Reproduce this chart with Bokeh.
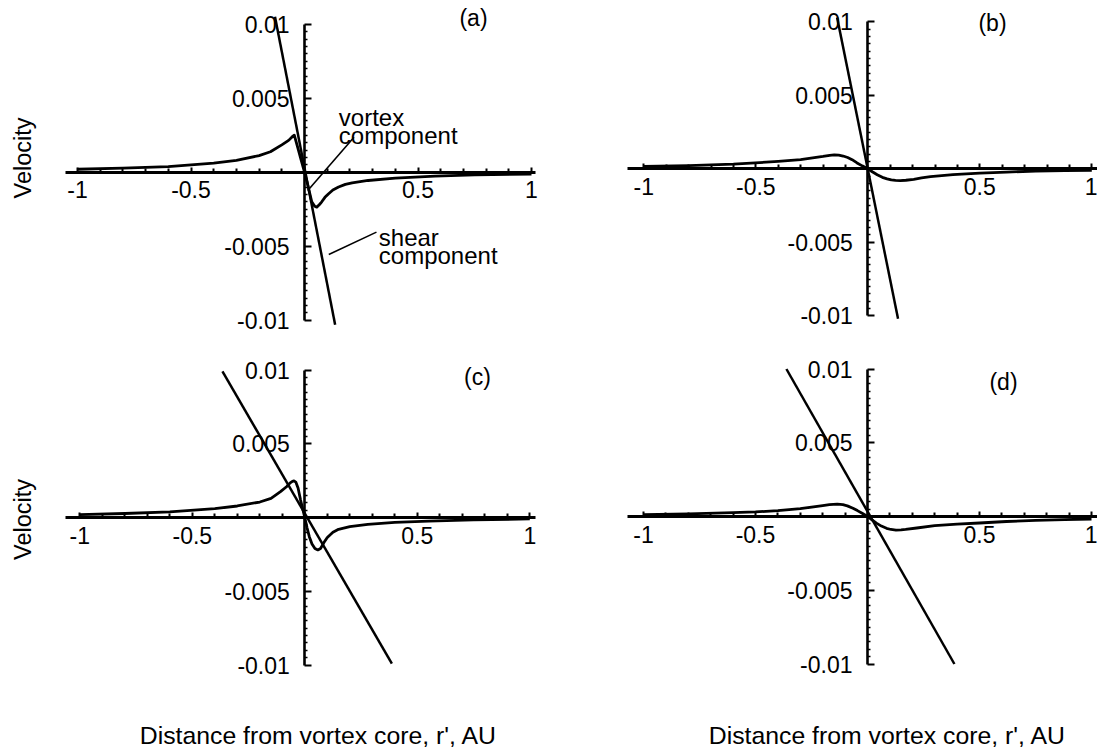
import math
from bokeh.plotting import figure
from bokeh.models import FixedTicker, Label
from bokeh.layouts import column, row
from bokeh.embed import file_html
from bokeh.resources import INLINE

FONT = "Liberation Sans"

# ---------------- data ----------------
x_major_ticks = [-1, -0.5, 0.5, 1]
x_tick_labels = ["-1", "-0.5", "0.5", "1"]
x_minor_ticks = [-0.9, -0.8, -0.7, -0.6, -0.4, -0.3, -0.2, -0.1,
                 0.1, 0.2, 0.3, 0.4, 0.6, 0.7, 0.8, 0.9]
y_major_ticks = [-0.01, -0.005, 0.005, 0.01]
y_tick_labels = ["-0.01", "-0.005", "0.005", "0.01"]
y_minor_ticks = [round(k * 0.0005, 4) for k in range(-20, 21) if k % 10 != 0]

panel_letters = ["(a)", "(b)", "(c)", "(d)"]
y_title = "Velocity"
x_title = "Distance from vortex core, r', AU"

# shear component (straight line through the core)
shear_a_x = [-0.13, 0.135]
shear_a_y = [0.0105, -0.0103]
shear_b_x = [-0.137, 0.135]
shear_b_y = [0.0103, -0.0102]
shear_c_x = [-0.366, 0.387]
shear_c_y = [0.0099, -0.0099]
shear_d_x = [-0.362, 0.388]
shear_d_y = [0.0100, -0.0100]

# vortex component
vortex_a_x = [-1.0, -0.8, -0.6, -0.4, -0.3, -0.2, -0.15, -0.1, -0.07, -0.055, -0.045,
              -0.03, -0.015, 0.0, 0.015, 0.032, 0.045, 0.054, 0.065, 0.076, 0.09,
              0.105, 0.125, 0.15, 0.18, 0.21, 0.28, 0.4, 0.575, 0.75, 1.0]
vortex_a_y = [0.0002, 0.00027, 0.00038, 0.00062, 0.0008, 0.00112, 0.00138, 0.00185,
              0.00215, 0.00238, 0.0025, 0.00167, 0.00083, 0.0, -0.0009, -0.002, -0.0023,
              -0.00236, -0.0022, -0.002, -0.0017, -0.00147, -0.0012, -0.001, -0.00082,
              -0.00072, -0.00056, -0.0004, -0.00027, -0.00018, -0.00012]

vortex_b_x = [-1.0, -0.8, -0.6, -0.4, -0.3, -0.2, -0.17, -0.15, -0.13, -0.11, -0.09,
              -0.07, -0.048, -0.025, 0.0, 0.02, 0.042, 0.065, 0.086, 0.105, 0.124,
              0.145, 0.17, 0.205, 0.24, 0.28, 0.38, 0.5, 0.62, 0.75, 0.88, 1.0]
vortex_b_y = [0.00016, 0.00022, 0.00032, 0.0005, 0.00062, 0.00084, 0.00092, 0.00095,
              0.00093, 0.00087, 0.00077, 0.00062, 0.0004, 0.0002, 0.0, -0.0002, -0.0004,
              -0.00058, -0.00069, -0.00076, -0.00079, -0.0008, -0.00078, -0.00072,
              -0.00062, -0.00053, -0.0004, -0.0003, -0.00022, -0.00016, -0.00013, -0.0001]

vortex_c_x = [-1.0, -0.8, -0.6, -0.4, -0.3, -0.2, -0.15, -0.108, -0.08, -0.065, -0.055,
              -0.048, -0.04, -0.03, -0.019, -0.008, 0.0, 0.01, 0.02, 0.032, 0.045, 0.058,
              0.07, 0.085, 0.1, 0.125, 0.15, 0.2, 0.28, 0.4, 0.55, 0.75, 1.0]
vortex_c_y = [0.0002, 0.00027, 0.00038, 0.0006, 0.00078, 0.00105, 0.0013, 0.00175,
              0.0021, 0.00235, 0.00245, 0.00248, 0.0024, 0.002, 0.0012, 0.0005, 0.0,
              -0.0007, -0.0013, -0.0018, -0.0021, -0.0022, -0.0021, -0.0017, -0.00135,
              -0.001, -0.0008, -0.00062, -0.00046, -0.00033, -0.00024, -0.00016, -0.0001]

vortex_d_x = [-1.0, -0.8, -0.6, -0.5, -0.4, -0.3, -0.2, -0.17, -0.135, -0.11, -0.09,
              -0.065, -0.045, -0.022, 0.0, 0.02, 0.04, 0.062, 0.085, 0.105, 0.127, 0.15,
              0.17, 0.22, 0.3, 0.4, 0.5, 0.62, 0.75, 0.88, 1.0]
vortex_d_y = [0.00012, 0.00018, 0.00026, 0.00031, 0.0004, 0.00053, 0.00074, 0.0008,
              0.00084, 0.0008, 0.00072, 0.00056, 0.0004, 0.0002, 0.0, -0.00023, -0.00045,
              -0.00065, -0.0008, -0.00088, -0.00092, -0.00091, -0.00088, -0.00078,
              -0.00062, -0.00052, -0.00044, -0.00034, -0.00026, -0.00021, -0.00017]

# annotations of panel (a)
note_vortex_lines = ["vortex", "component"]
note_shear_lines = ["shear", "component"]
leader_vortex_x = [0.218, 0.0145]
leader_vortex_y = [0.00236, -0.00124]
leader_shear_x = [0.317, 0.107]
leader_shear_y = [-0.00405, -0.00556]

# ---------------- layout geometry (pixels, canvas coordinates) ----------------
# w,h: canvas; ox,oy: origin; sx,sy: px per unit; axl,axr: x-axis line ends
GEOM = {
    "a": dict(w=548, h=345, ox=304.0, oy=171.7, sx=227.0, sy=14800.0, axl=64.5, axr=535.0),
    "b": dict(w=549, h=345, ox=319.3, oy=168.3, sx=224.0, sy=14700.0, axl=79.0, axr=549.0),
    "c": dict(w=548, h=403, ox=304.3, oy=172.0, sx=225.0, sy=14750.0, axl=64.5, axr=535.0),
    "d": dict(w=549, h=403, ox=319.0, oy=171.0, sx=224.0, sy=14750.0, axl=79.0, axr=549.0),
}


def px_to_data(g, px, py):
    return (px - g["ox"]) / g["sx"], (g["oy"] - py) / g["sy"]


def add_text(p, g, px, py, txt, size="23px", align="center", baseline="middle", angle=0.0):
    tx, ty = px_to_data(g, px, py)
    p.add_layout(Label(x=tx, y=ty, text=txt, angle=angle, text_font=FONT,
                       text_font_size=size, text_align=align, text_baseline=baseline,
                       text_color="black"))


def make_panel(key, letter, sx_, sy_, vx, vy, letter_px):
    g = GEOM[key]
    x0, y1 = px_to_data(g, 0, 0)
    x1, y0 = px_to_data(g, g["w"], g["h"])
    p = figure(frame_width=g["w"], frame_height=g["h"],
               min_border_left=0, min_border_top=0, min_border_right=0, min_border_bottom=0,
               x_range=(x0, x1), y_range=(y0, y1),
               toolbar_location=None, output_backend="svg", title=None)
    p.outline_line_color = None
    p.background_fill_color = "white"
    p.border_fill_color = "white"
    p.xgrid.visible = False
    p.ygrid.visible = False

    xa = p.xaxis[0]
    xa.fixed_location = 0
    xa.bounds = (px_to_data(g, g["axl"], 0)[0], px_to_data(g, g["axr"], 0)[0])
    xa.ticker = FixedTicker(ticks=x_major_ticks, minor_ticks=x_minor_ticks)
    xa.major_label_overrides = {t: l for t, l in zip(x_major_ticks, x_tick_labels)}
    xa.major_tick_in = 5
    xa.major_tick_out = 0
    xa.minor_tick_in = 4
    xa.minor_tick_out = 0
    xa.axis_line_width = 2.8
    xa.major_tick_line_width = 2
    xa.minor_tick_line_width = 2
    xa.major_label_standoff = 9
    xa.major_label_text_font = FONT
    xa.major_label_text_font_size = "23px"
    xa.major_label_text_color = "black"

    ya = p.yaxis[0]
    ya.fixed_location = 0
    ya.bounds = (-0.01, 0.01)
    ya.ticker = FixedTicker(ticks=y_major_ticks, minor_ticks=y_minor_ticks)
    ya.major_label_overrides = {t: l for t, l in zip(y_major_ticks, y_tick_labels)}
    ya.major_tick_in = 7
    ya.major_tick_out = 0
    ya.minor_tick_in = 3
    ya.minor_tick_out = 0
    ya.axis_line_width = 2.6
    ya.major_tick_line_width = 2
    ya.minor_tick_line_width = 1.5
    ya.major_label_standoff = 15
    ya.major_label_text_font = FONT
    ya.major_label_text_font_size = "23px"
    ya.major_label_text_color = "black"

    p.line(sx_, sy_, line_color="black", line_width=2.5)
    p.line(vx, vy, line_color="black", line_width=2.8, line_join="round")

    add_text(p, g, letter_px[0], letter_px[1], letter)
    return p


pa = make_panel("a", panel_letters[0], shear_a_x, shear_a_y, vortex_a_x, vortex_a_y, (473, 17))
pb = make_panel("b", panel_letters[1], shear_b_x, shear_b_y, vortex_b_x, vortex_b_y, (444, 22))
pc = make_panel("c", panel_letters[2], shear_c_x, shear_c_y, vortex_c_x, vortex_c_y, (477, 31))
pd = make_panel("d", panel_letters[3], shear_d_x, shear_d_y, vortex_d_x, vortex_d_y, (455, 36))

# axis titles
add_text(pa, GEOM["a"], 22, 157.5, y_title, size="23.5px", angle=math.pi / 2)
add_text(pc, GEOM["c"], 22, 174, y_title, size="23.5px", angle=math.pi / 2)
add_text(pc, GEOM["c"], 318, 390, x_title, size="24.8px")
add_text(pd, GEOM["d"], 339, 390, x_title, size="24.8px")

# annotations in panel (a)
ga = GEOM["a"]
for txt, (px, py) in zip(note_vortex_lines, [(338.3, 116.7), (338.3, 135.0)]):
    add_text(pa, ga, px, py, txt, size="24px", align="left", baseline="alphabetic")
for txt, (px, py) in zip(note_shear_lines, [(378.3, 236.7), (378.3, 255.0)]):
    add_text(pa, ga, px, py, txt, size="24px", align="left", baseline="alphabetic")
pa.line(leader_vortex_x, leader_vortex_y, line_color="black", line_width=1.6)
pa.line(leader_shear_x, leader_shear_y, line_color="black", line_width=1.6)

layout = column(row(pa, pb), row(pc, pd))

open("out.html", "w").write(file_html(layout, INLINE))
